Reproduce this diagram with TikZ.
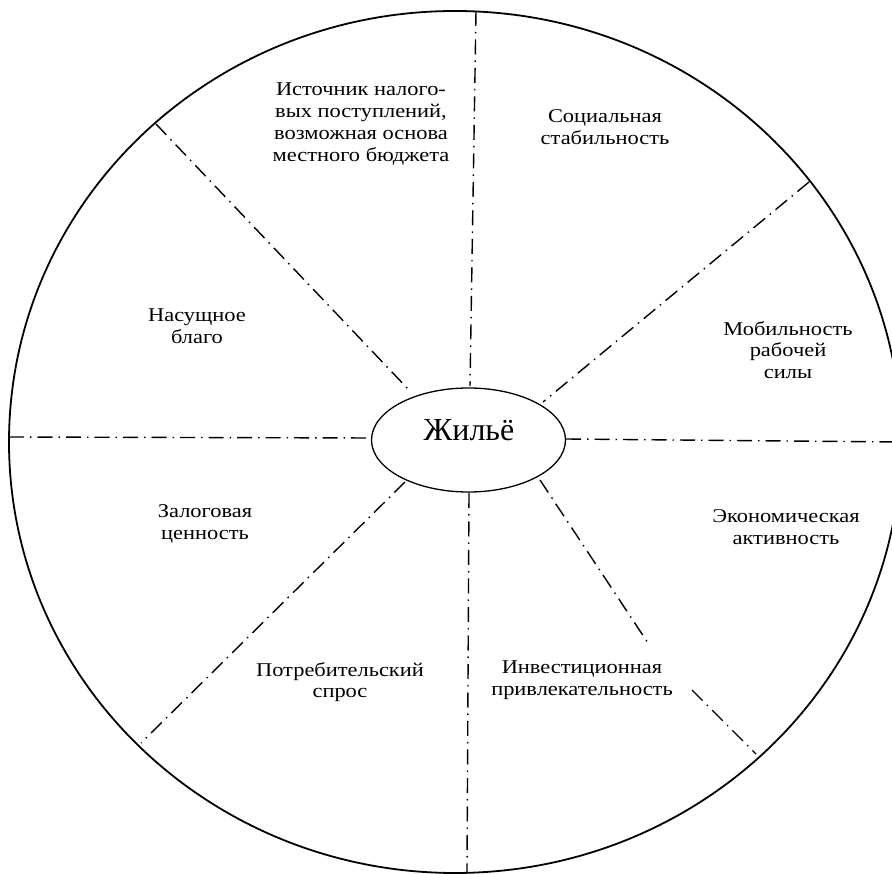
\documentclass[tikz,border=0pt]{standalone}
\usepackage{fontspec}
\setmainfont{Liberation Serif}
\newfontfamily\widefont[FakeStretch=1.15]{Liberation Serif}
\usetikzlibrary{shapes.geometric}
\begin{document}
\begin{tikzpicture}[x=1pt,y=-1pt,
  rim/.style={line width=1.8pt},
  spoke/.style={line width=1.4pt, dash pattern=on 15pt off 6pt on 1.5pt off 6pt},
  hubshape/.style={draw, ellipse, line width=1.3pt, minimum width=194pt, minimum height=104pt, inner sep=0pt},
  hubtext/.style={font=\fontsize{32}{38}\selectfont, inner sep=0pt},
  sector/.style={align=center, font=\widefont\fontsize{19.5}{21.8}\selectfont, inner sep=0pt},
]
\useasboundingbox (0,0) rectangle (892,874);
\begin{scope}
\clip (0,0) rectangle (892,874);
% outer rim
\draw[rim] (455,442) ellipse [x radius=446, y radius=431];

% central hub
\node[hubshape] (hub) at (468.5,440) {};
\node[hubtext] (hubtxt) at (469,430) {Жильё};

% spoke end points on the rim
\coordinate (rT)  at (476,11);
\coordinate (rB)  at (467,873);
\coordinate (rL)  at (9,437);
\coordinate (rR)  at (900,442);
\coordinate (rUL) at (156,124);
\coordinate (rUR) at (809,182);
\coordinate (rLL) at (141,743);
\coordinate (rLR) at (756,754);
% spoke end points at the hub
\coordinate (hT)  at (470,386);
\coordinate (hB)  at (469,493);
\coordinate (hL)  at (372,438);
\coordinate (hR)  at (566,439);
\coordinate (hUL) at (410,391);
\coordinate (hUR) at (543,402);
\coordinate (hLL) at (405,482);
\coordinate (hLR) at (540,480);
% break in the lower right spoke
\coordinate (bLR1) at (648,643);
\coordinate (bLR2) at (692,690);

\draw[spoke] (rT) -- (hT);
\draw[spoke] (hB) -- (rB);
\draw[spoke] (rL) -- (hL);
\draw[spoke] (hR) -- (rR);
\draw[spoke] (rUL) -- (hUL);
\draw[spoke] (rUR) -- (hUR);
\draw[spoke] (hLL) -- (rLL);
\draw[spoke] (hLR) -- (bLR1);
\draw[spoke] (bLR2) -- (rLR);
\end{scope}

% sector captions
\node[sector] (s1) at (361,124) {Источник налого-\\вых поступлений,\\возможная основа\\местного бюджета};
\node[sector] (s2) at (605,127) {Социальная\\стабильность};
\node[sector] (s3) at (197,326) {Насущное\\благо};
\node[sector] (s4) at (788,350) {Мобильность\\рабочей\\силы};
\node[sector] (s5) at (205,524) {Залоговая\\ценность};
\node[sector] (s6) at (786,527) {Экономическая\\активность};
\node[sector] (s7) at (340,682) {Потребительский\\спрос};
\node[sector] (s8) at (582,680) {Инвестиционная\\привлекательность};
\end{tikzpicture}
\end{document}
